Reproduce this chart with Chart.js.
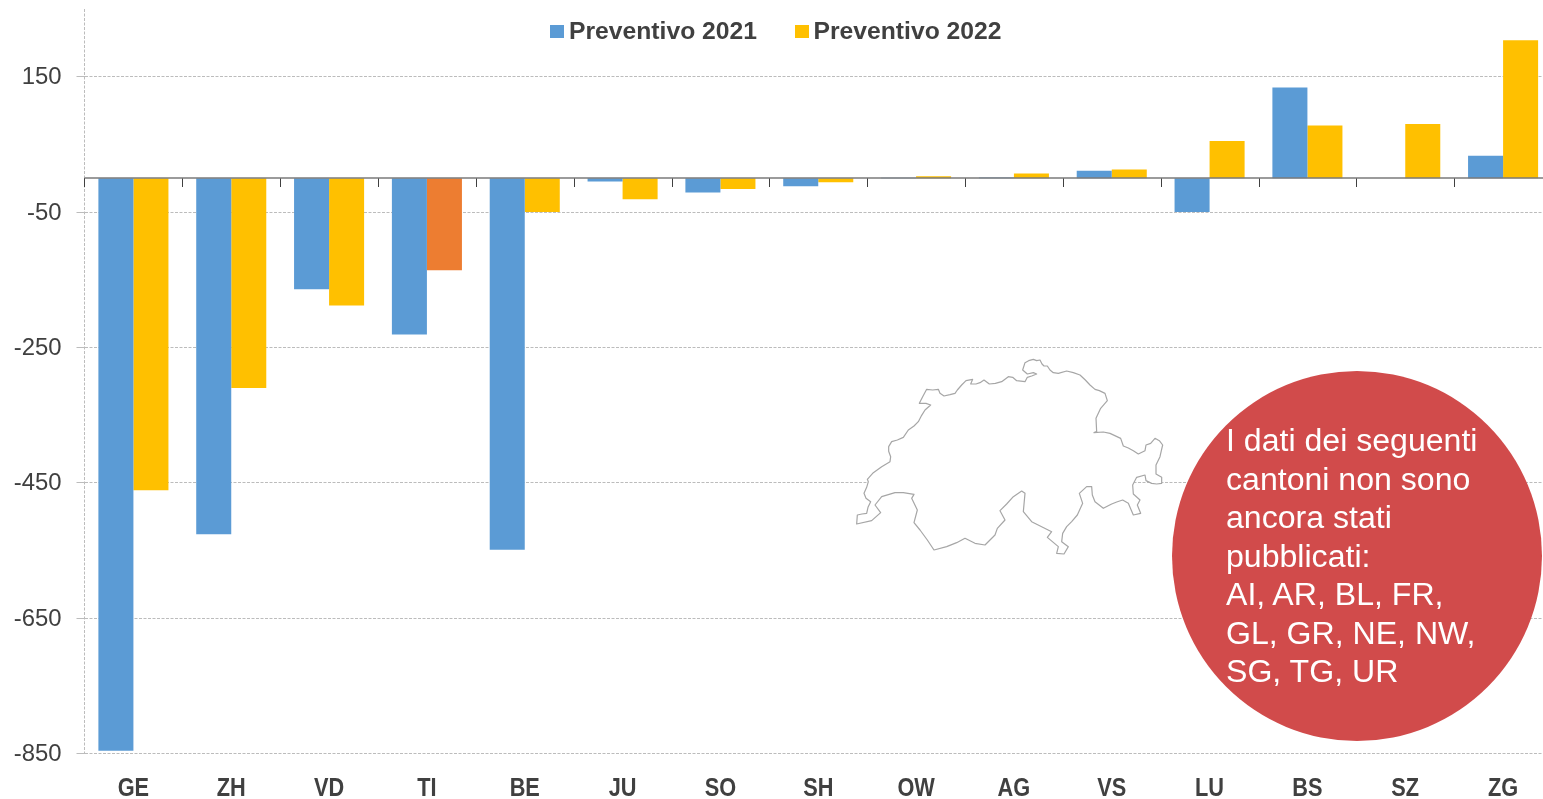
<!DOCTYPE html>
<html lang="it">
<head>
<meta charset="utf-8">
<title>Preventivo 2021 / 2022</title>
<script src="https://cdn.jsdelivr.net/npm/chart.js@4/dist/chart.umd.min.js"></script>
<style>
html,body{margin:0;padding:0;background:#fff;overflow:hidden}
#wrap{position:relative;width:1543px;height:799px;overflow:hidden;font-family:"Liberation Sans",Arial,sans-serif}
canvas{position:absolute;left:0;top:0}
#legend{position:absolute;top:17px;left:550px;height:28px;color:#404040;font-weight:bold;font-size:24.7px;line-height:28px;white-space:nowrap}
#legend span.item{position:absolute;top:0;white-space:nowrap}
#legend i{position:absolute;width:14px;height:13px;top:8px;left:0}
#legend b{position:absolute;left:19px;top:0}
#map{position:absolute;left:840px;top:350px;width:340px;height:210px}
#circle{position:absolute;left:1172px;top:371px;width:370px;height:370px;border-radius:50%;background:#d14b4b}
#note{position:absolute;left:1226px;top:421px;width:300px;color:#fff;font-size:32.1px;line-height:38.5px}
</style>
</head>
<body>
<div id="wrap">
  <canvas id="c" width="1552" height="799"></canvas>
  <svg id="map" viewBox="0 0 1020 630" xmlns="http://www.w3.org/2000/svg">
    <path fill="#fff" stroke="#a6a6a6" stroke-width="3.6" stroke-linejoin="round" d="M50,522 L52,495 L66,492 L80,490 L84,472 L92,455 L78,445 L72,430 L80,412 L85,395 L82,388 L100,368 L125,350 L150,335 L152,320 L146,304 L146,290 L155,275 L172,270 L190,262 L205,240 L222,228 L235,215 L245,196 L255,180 L272,165 L258,160 L238,160 L248,140 L260,118 L278,120 L295,118 L300,130 L312,138 L330,134 L345,130 L352,120 L365,105 L378,92 L398,88 L392,102 L408,102 L420,98 L432,90 L448,102 L466,100 L485,95 L505,80 L518,82 L530,92 L555,95 L562,82 L575,78 L590,72 L580,68 L562,72 L548,60 L555,38 L566,32 L580,28 L590,32 L600,30 L606,42 L612,48 L622,48 L630,60 L640,68 L655,70 L680,63 L700,68 L720,75 L736,90 L750,105 L765,118 L778,122 L795,130 L802,152 L782,175 L768,205 L770,245 L762,248 L790,246 L810,250 L842,265 L850,288 L865,294 L880,302 L895,312 L915,302 L918,285 L932,280 L945,265 L958,272 L968,285 L964,302 L960,320 L948,345 L948,372 L965,382 L965,400 L950,402 L935,400 L918,392 L915,375 L890,382 L878,405 L880,432 L900,450 L892,465 L902,490 L880,495 L870,472 L865,460 L848,450 L830,456 L815,462 L790,475 L765,455 L757,435 L755,410 L740,410 L718,430 L728,460 L712,495 L695,515 L680,530 L668,550 L665,575 L685,590 L672,612 L650,610 L655,590 L622,562 L635,545 L605,530 L575,515 L550,485 L555,430 L545,423 L520,440 L500,462 L480,482 L495,510 L472,535 L465,555 L435,585 L405,580 L375,565 L350,578 L320,590 L282,600 L262,570 L240,540 L222,518 L232,480 L215,445 L222,433 L190,428 L165,428 L125,440 L105,465 L122,488 L95,512 Z"/>
  </svg>
  <div id="circle"></div>
  <div id="note">I dati dei seguenti<br>cantoni non sono<br>ancora stati<br>pubblicati:<br>AI, AR, BL, FR,<br>GL, GR, NE, NW,<br>SG, TG, UR</div>
  <div id="legend"></div>
</div>
<script>
const categories = ["GE","ZH","VD","TI","BE","JU","SO","SH","OW","AG","VS","LU","BS","SZ","ZG"];
const preventivo2021 = [-846,-526,-164,-231,-549,-5,-21,-12,0.7,1,11,-50,134,null,33];
const preventivo2022 = [-461,-310,-188,-136,-50,-31,-16,-6,3,7,13,55,78,80,204];
const seriesNames = ["Preventivo 2021","Preventivo 2022"];
const colors2021 = ["#5b9bd5"];
const colors2022 = ["#ffc000","#ffc000","#ffc000","#ed7d31","#ffc000","#ffc000","#ffc000","#ffc000","#ffc000","#ffc000","#ffc000","#ffc000","#ffc000","#ffc000","#ffc000"];
const yTicks = [-850,-650,-450,-250,-50,150];
const yMin = -850, yMax = 250;

const legendEl = document.getElementById('legend');
[[0,seriesNames[0],colors2021[0]],[244.5,seriesNames[1],colors2022[0]]].forEach(function(e){
  const s=document.createElement('span');s.className='item';s.style.left=e[0]+'px';
  const i=document.createElement('i');i.style.background=e[2];
  const b=document.createElement('b');b.textContent=e[1];
  s.appendChild(i);s.appendChild(b);legendEl.appendChild(s);
});

const axisDecor = {
  id:'axisDecor',
  beforeDatasetsDraw(chart){
    const ctx=chart.ctx, a=chart.chartArea;
    ctx.save();
    ctx.strokeStyle='#bcbcbc';ctx.lineWidth=1;ctx.setLineDash([3,1.5]);
    ctx.beginPath();ctx.moveTo(84.5,a.top);ctx.lineTo(84.5,a.bottom);ctx.stroke();
    ctx.restore();
  },
  afterDatasetsDraw(chart){
    const ctx=chart.ctx, x=chart.scales.x, y=chart.scales.y;
    const y0=Math.round(y.getPixelForValue(0));
    const half=(x.getPixelForValue(1)-x.getPixelForValue(0))/2;
    ctx.save();
    ctx.strokeStyle='#404040';ctx.lineWidth=1;
    categories.forEach(function(c,i){
      const px=Math.round(x.getPixelForValue(i)-half)+0.5;
      ctx.beginPath();ctx.moveTo(px,y0);ctx.lineTo(px,y0+9);ctx.stroke();
    });
    ctx.strokeStyle='#7a7a7a';ctx.lineWidth=1.6;
    ctx.beginPath();ctx.moveTo(chart.chartArea.left,y0);ctx.lineTo(chart.chartArea.right,y0);ctx.stroke();
    ctx.fillStyle='#404040';ctx.font='bold 26.5px "Liberation Sans",Arial,sans-serif';
    ctx.textAlign='center';ctx.textBaseline='middle';
    categories.forEach(function(c,i){
      ctx.save();
      ctx.translate(x.getPixelForValue(i),788.5);
      ctx.scale(0.82,1);
      ctx.fillText(c,0,0);
      ctx.restore();
    });
    ctx.restore();
  }
};

new Chart(document.getElementById('c'),{
  type:'bar',
  data:{labels:categories,datasets:[
    {label:seriesNames[0],data:preventivo2021,backgroundColor:colors2021[0]},
    {label:seriesNames[1],data:preventivo2022,backgroundColor:colors2022}
  ]},
  options:{
    responsive:false,animation:false,
    layout:{padding:{left:0,right:0,top:9,bottom:0}},
    datasets:{bar:{categoryPercentage:0.716,barPercentage:1}},
    plugins:{legend:{display:false},tooltip:{enabled:false}},
    scales:{
      x:{
        grid:{display:false},border:{display:false},
        ticks:{display:false},
        afterFit(s){s.height=45.5;s.paddingLeft=0;s.paddingRight=0;}
      },
      y:{
        min:yMin,max:yMax,
        afterBuildTicks(s){s.ticks=yTicks.map(function(v){return {value:v};});},
        grid:{color:'#bcbcbc',lineWidth:1,tickLength:8,drawTicks:true},
        border:{display:false,dash:[3,1.5]},
        ticks:{color:'#404040',padding:15,labelOffset:1,font:{family:'"Liberation Sans",Arial,sans-serif',size:23.9},
          callback(v){return String(v);}},
        afterFit(s){s.width=84.5;s.paddingTop=0;s.paddingBottom=0;}
      }
    }
  },
  plugins:[axisDecor]
});
</script>
</body>
</html>
